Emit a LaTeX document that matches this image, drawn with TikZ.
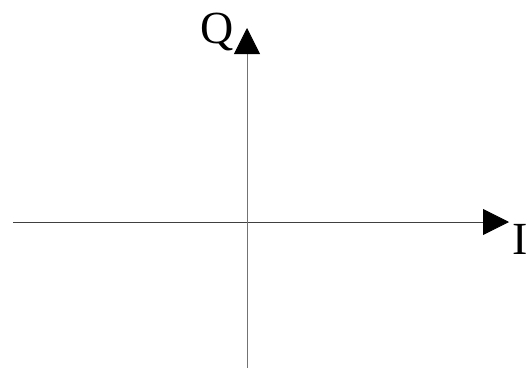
\documentclass[tikz,border=0pt]{standalone}
\usepackage{fontspec}
\setmainfont{Liberation Serif}
\usetikzlibrary{arrows.meta}

\begin{document}
\begin{tikzpicture}[x=1pt, y=-1pt,
        axis/.style={-{Triangle[length=26pt, width=26pt, black]}, line width=0.8pt},
        axislabel/.style={font=\fontsize{46}{46}\selectfont, inner sep=0pt}]
    \useasboundingbox (0,0) rectangle (527,370);

    % axis end points
    \coordinate (west) at (13,222);
    \coordinate (east) at (509,222);
    \coordinate (south) at (247,368);
    \coordinate (north) at (247,28);

    \draw[axis, black!75] (west) -- (east);
    \draw[axis, black!55] (south) -- (north);

    \node[axislabel, anchor=base east] (qlabel) at (234,43) {Q};
    \node[axislabel, anchor=base west] (ilabel) at (512,254) {I};
\end{tikzpicture}
\end{document}
